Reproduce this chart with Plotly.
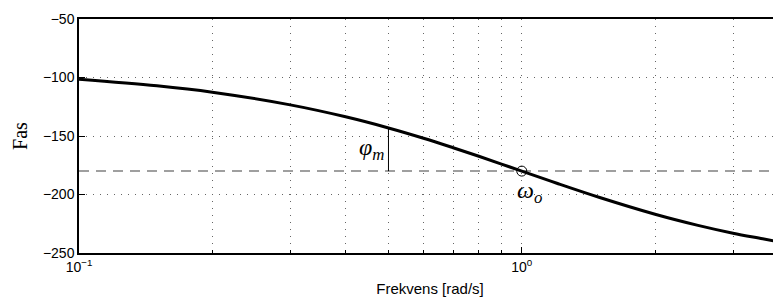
import math
import plotly.graph_objects as go

# Frequencies [rad/s] and phase [deg]
freq = [0.1, 0.15, 0.2, 0.3, 0.4, 0.5, 0.6, 0.7, 0.8, 0.9, 1.0, 1.2, 1.5, 2.0, 2.5, 3.0, 3.5, 3.85]
phase = [-101.4, -107.1, -112.6, -123.4, -133.6, -143.1, -151.9, -160.0, -167.3, -174.0,
         -180.0, -190.4, -202.6, -216.9, -226.4, -233.1, -237.9, -240.9]

ref_phase = -180
w_m = 0.5
phi_at_wm = -143.1
w_o = 1.0

x_major = [0.1, 1]
x_major_text = ["10<sup>−1</sup>", "10<sup>0</sup>"]
x_minor = [0.2, 0.3, 0.4, 0.5, 0.6, 0.7, 0.8, 0.9, 2, 3]
y_ticks = [-250, -200, -150, -100, -50]
y_text = ["−250", "−200", "−150", "−100", "−50"]

fig = go.Figure()
fig.add_trace(go.Scatter(x=[0.1, 3.85], y=[ref_phase, ref_phase], mode="lines",
                         line=dict(color="#808080", width=1.5, dash="10px,7px"),
                         hoverinfo="skip", showlegend=False))
fig.add_trace(go.Scatter(x=[w_m, w_m], y=[ref_phase, phi_at_wm], mode="lines",
                         line=dict(color="black", width=1), showlegend=False))
fig.add_trace(go.Scatter(x=freq, y=phase, mode="lines", line_shape="spline",
                         line=dict(color="black", width=3), showlegend=False))
fig.add_trace(go.Scatter(x=[w_o], y=[ref_phase], mode="markers",
                         marker=dict(symbol="circle-open", size=10, color="black",
                                     line=dict(width=1)), showlegend=False))

fig.add_annotation(x=math.log10(w_m), y=-161, xref="x", yref="y", text="<i>φ<sub>m</sub></i>",
                   showarrow=False, xanchor="right", xshift=-2,
                   font=dict(family="Liberation Serif", size=24, color="black"))
fig.add_annotation(x=math.log10(w_o), y=-198, xref="x", yref="y", text="<i>ω<sub>o</sub></i>",
                   showarrow=False, xanchor="left", xshift=-7,
                   font=dict(family="Liberation Serif", size=24, color="black"))

grid_dash = "1px,6px"
grid_color = "#666666"

fig.update_layout(
    width=773, height=297,
    margin=dict(l=71, r=0, t=11, b=52),
    plot_bgcolor="white", paper_bgcolor="white",
    font=dict(family="Liberation Sans", size=13, color="black"),
    xaxis=dict(type="log", range=[-1, 0.5855], tickvals=x_major, ticktext=x_major_text,
               automargin=False,
               ticks="inside", ticklen=6, tickcolor="black", showline=True,
               linecolor="black", linewidth=1.5, mirror=True,
               showgrid=True, gridcolor=grid_color, griddash=grid_dash, gridwidth=1,
               zeroline=False,
               minor=dict(tickvals=x_minor, ticks="inside", ticklen=3, tickcolor="black",
                          showgrid=True, gridcolor=grid_color, griddash=grid_dash),
               title=dict(text="Frekvens [rad/s]", font=dict(size=15), standoff=10),
               tickfont=dict(size=14)),
    yaxis=dict(range=[-250, -50], tickvals=y_ticks, ticktext=y_text,
               automargin=False,
               ticks="inside", ticklen=6, tickcolor="black", showline=True,
               linecolor="black", linewidth=1.5, mirror=False,
               showgrid=True, gridcolor=grid_color, griddash=grid_dash, gridwidth=1,
               zeroline=False,
               title=dict(text="Fas", font=dict(family="Liberation Serif", size=20), standoff=10),
               tickfont=dict(size=14)),
)

fig.write_html("out.html")
